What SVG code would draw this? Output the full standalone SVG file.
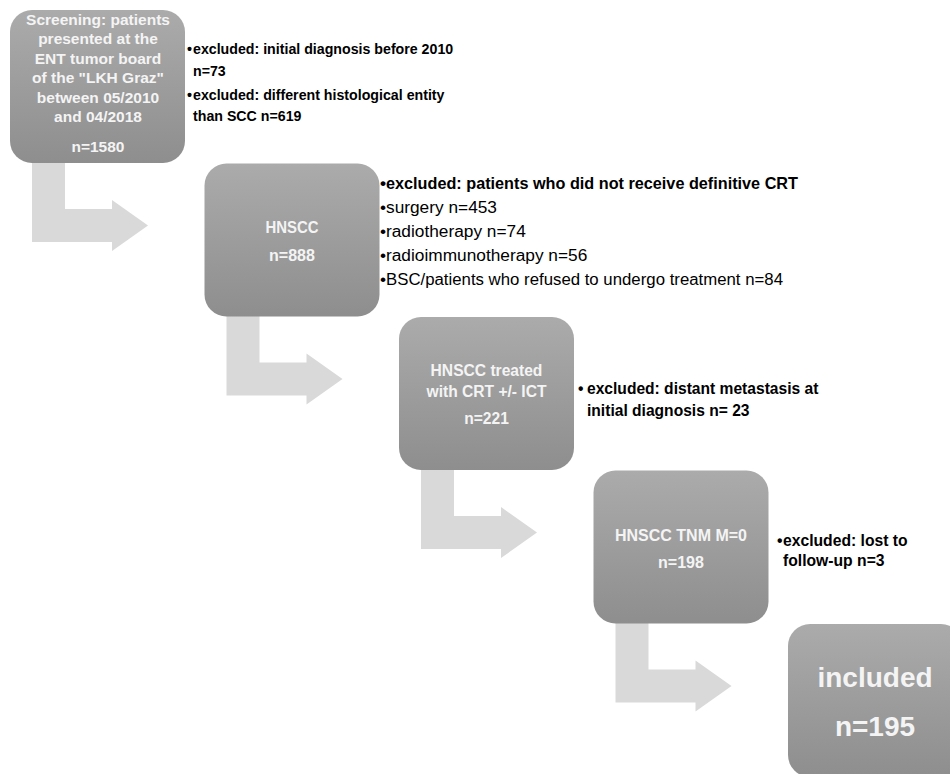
<svg xmlns="http://www.w3.org/2000/svg" width="950" height="774" viewBox="0 0 950 774">
  <defs>
    <linearGradient id="boxGrad" x1="0" y1="0" x2="0" y2="1">
      <stop offset="0" stop-color="#ababab"/>
      <stop offset="1" stop-color="#8e8e8e"/>
    </linearGradient>
    <path id="bentArrow" d="M32,160 H65 V209 H112 V200 L148,225.5 L112,251 V242 H32 Z"/>
    <style>
      .box { fill: url(#boxGrad); }
      .arrow { fill: #d9d9d9; }
      .in { font-family: "Liberation Sans", Arial, sans-serif; font-weight: bold; fill: #f4f4f4; text-anchor: middle; }
      .side { font-family: "Liberation Sans", Arial, sans-serif; fill: #000000; }
      .b { font-weight: bold; }
    </style>
  </defs>
  <rect width="950" height="774" fill="#ffffff"/>

  <g id="connectors">
    <use href="#bentArrow" class="arrow"/>
    <use href="#bentArrow" class="arrow" transform="translate(194.5,153.5)"/>
    <use href="#bentArrow" class="arrow" transform="translate(389,307)"/>
    <use href="#bentArrow" class="arrow" transform="translate(583.5,460.5)"/>
  </g>

  <g id="node-screening">
    <rect class="box" x="10" y="10" width="175" height="153" rx="22"/>
    <g class="in" font-size="15.5">
      <text x="98" y="24.5">Screening: patients</text>
      <text x="98" y="44">presented at the</text>
      <text x="98" y="63.5">ENT tumor board</text>
      <text x="98" y="83">of the "LKH Graz"</text>
      <text x="98" y="102.5">between 05/2010</text>
      <text x="98" y="122">and 04/2018</text>
      <text x="98" y="152">n=1580</text>
    </g>
    <g class="side b" font-size="14.2">
      <text x="187" y="54">•</text>
      <text x="193" y="54">excluded: initial diagnosis before 2010</text>
      <text x="193" y="76">n=73</text>
      <text x="187" y="100">•</text>
      <text x="193" y="100">excluded: different histological entity</text>
      <text x="193" y="121">than SCC n=619</text>
    </g>
  </g>

  <g id="node-hnscc">
    <rect class="box" x="204.5" y="163.5" width="175" height="153" rx="22"/>
    <g class="in" font-size="16">
      <text x="292" y="233" textLength="53" lengthAdjust="spacingAndGlyphs">HNSCC</text>
      <text x="292" y="261">n=888</text>
    </g>
    <g class="side" font-size="17.3">
      <text x="380" y="189" class="b">•</text>
      <text x="386" y="189" class="b" textLength="412" lengthAdjust="spacingAndGlyphs">excluded: patients who did not receive definitive CRT</text>
      <text x="380" y="213">•</text>
      <text x="386" y="213">surgery n=453</text>
      <text x="380" y="237">•</text>
      <text x="386" y="237">radiotherapy n=74</text>
      <text x="380" y="261">•</text>
      <text x="386" y="261">radioimmunotherapy n=56</text>
      <text x="380" y="285">•</text>
      <text x="386" y="285" textLength="397" lengthAdjust="spacingAndGlyphs">BSC/patients who refused to undergo treatment n=84</text>
    </g>
  </g>

  <g id="node-crt">
    <rect class="box" x="399" y="317" width="175" height="153" rx="22"/>
    <g class="in" font-size="15.6">
      <text x="486.5" y="376">HNSCC treated</text>
      <text x="486.5" y="397">with CRT +/- ICT</text>
      <text x="486.5" y="424">n=221</text>
    </g>
    <g class="side b" font-size="15.6">
      <text x="578" y="394">•</text>
      <text x="587" y="394">excluded: distant metastasis at</text>
      <text x="587" y="416">initial diagnosis n= 23</text>
    </g>
  </g>

  <g id="node-m0">
    <rect class="box" x="593.5" y="470.5" width="175" height="153" rx="22"/>
    <g class="in" font-size="16">
      <text x="681" y="541">HNSCC TNM M=0</text>
      <text x="681" y="568">n=198</text>
    </g>
    <g class="side b" font-size="15.7">
      <text x="777" y="546">•</text>
      <text x="783" y="546">excluded: lost to</text>
      <text x="783" y="566">follow-up n=3</text>
    </g>
  </g>

  <g id="node-included">
    <rect class="box" x="788" y="624" width="175" height="153" rx="22"/>
    <g class="in" font-size="28">
      <text x="875" y="687">included</text>
      <text x="875" y="736">n=195</text>
    </g>
  </g>
</svg>
